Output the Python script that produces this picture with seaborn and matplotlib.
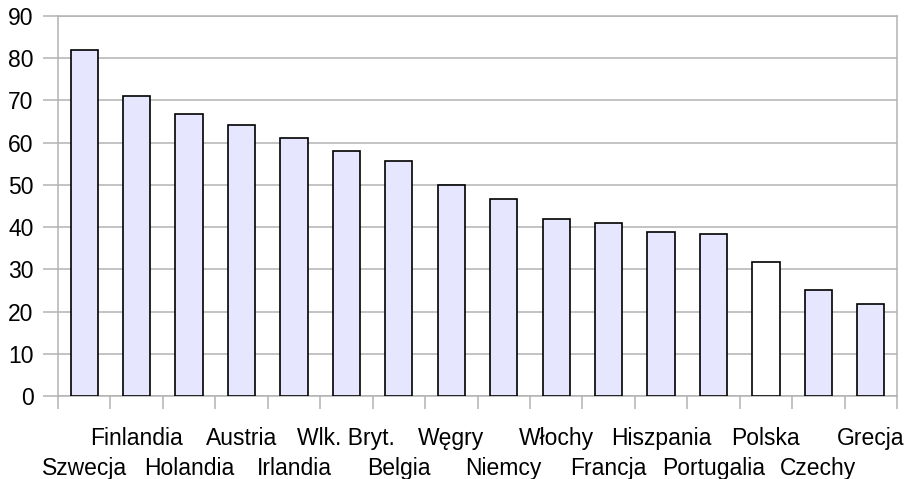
import pandas as pd
import seaborn as sns
import matplotlib.pyplot as plt
from matplotlib.ticker import FixedLocator

countries = ['Szwecja', 'Finlandia', 'Holandia', 'Austria', 'Irlandia', 'Wlk. Bryt.',
             'Belgia', 'Węgry', 'Niemcy', 'Włochy', 'Francja', 'Hiszpania',
             'Portugalia', 'Polska', 'Czechy', 'Grecja']
values = [82, 71, 66.7, 64.2, 61, 58, 55.7, 50, 46.7, 42, 41, 38.8, 38.3, 31.8, 25, 21.7]
highlight = 'Polska'

df = pd.DataFrame({'country': countries, 'value': values})
palette = {c: ('white' if c == highlight else '#e6e6ff') for c in countries}

sns.set_style('white')
plt.rcParams['font.family'] = ['Liberation Sans', 'DejaVu Sans']
plt.rcParams['text.color'] = 'black'
plt.rcParams['xtick.labelcolor'] = 'black'
plt.rcParams['ytick.labelcolor'] = 'black'

fig = plt.figure(figsize=(9.11, 4.79), dpi=100)
ax = fig.add_axes([58 / 911, 83 / 479, 839 / 911, 380 / 479])

sns.barplot(data=df, x='country', y='value', hue='country', palette=palette,
            legend=False, width=0.52, edgecolor='black', linewidth=1.2,
            saturation=1, ax=ax, zorder=3)

grid_c = '#b3b3b3'
ax.set_ylim(0, 90)
ax.set_xlim(-0.5, len(countries) - 0.5)
ax.set_yticks(range(0, 91, 10))
ax.yaxis.grid(True, color=grid_c, linewidth=1.1, zorder=0)
ax.set_axisbelow(True)
for s in ax.spines.values():
    s.set_color(grid_c)
    s.set_linewidth(1.1)

# staggered category labels: odd ones on the upper row, even ones on the lower row
odd = list(range(1, len(countries), 2))
even = list(range(0, len(countries), 2))
ax.set_xticks(odd)
ax.set_xticklabels([countries[i] for i in odd])
ax.tick_params(axis='x', which='major', length=0, pad=22, labelsize=16.5)
ax.xaxis.set_minor_locator(FixedLocator([i - 0.5 for i in range(len(countries) + 1)]))
ax.tick_params(axis='x', which='minor', length=9.5, width=1.1, color=grid_c, bottom=True)
ax.tick_params(axis='y', length=10.5, width=1.1, color=grid_c, pad=7, labelsize=16.5, left=True)
ax.set_xlabel('')
ax.set_ylabel('')

sec = ax.secondary_xaxis('bottom')
sec.set_xticks(even)
sec.set_xticklabels([countries[i] for i in even])
sec.tick_params(axis='x', length=0, pad=44, labelsize=16.5, labelcolor='black')
sec.spines['bottom'].set_visible(False)

fig.savefig('out.png', dpi=100)
